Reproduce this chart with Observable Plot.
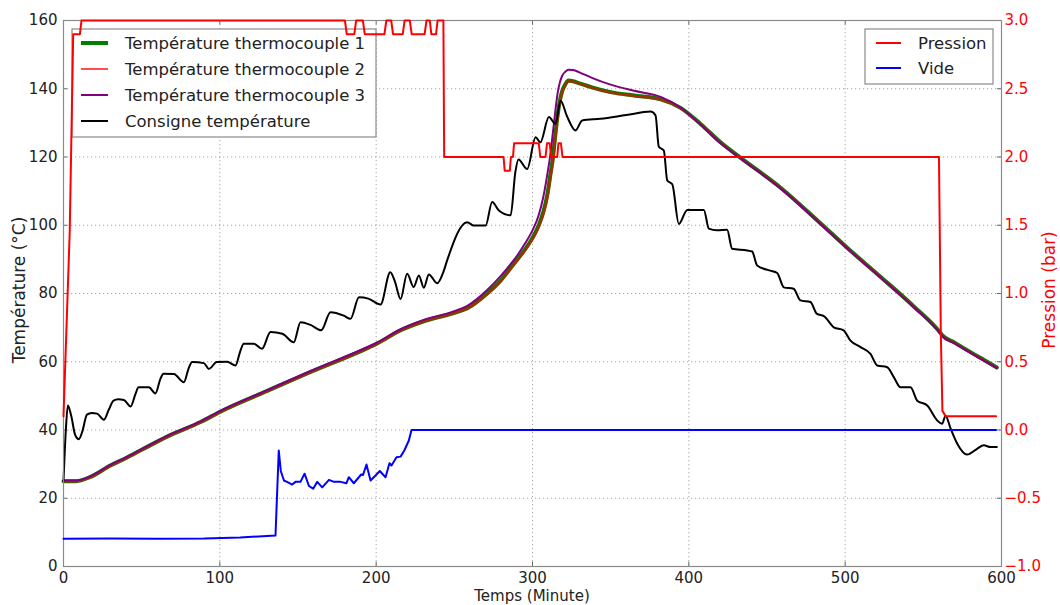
<!DOCTYPE html>
<html><head><meta charset="utf-8">
<script src="https://cdn.jsdelivr.net/npm/d3@7"></script>
<script src="https://cdn.jsdelivr.net/npm/@observablehq/plot@0.6"></script>
<style>body{margin:0;background:#fff;}</style>
</head><body><div id="chart"></div>
<script>
// ---- data ----
const xTicks = [0, 100, 200, 300, 400, 500, 600];
const yTicks = [0, 20, 40, 60, 80, 100, 120, 140, 160];
const pTicks = [-1.0, -0.5, 0.0, 0.5, 1.0, 1.5, 2.0, 2.5, 3.0];

const tcTime = [0,8,17,30,40,50,66,88,100,130,158,192,200,216,230,249,258,271,280,286,290,295,300,304,307,309.5,311.5,313,314.5,316,317.5,319,321,323,326,330,338,350,365,382,394.7,407.5,420.3,433,458.7,484.2,501.3,522.6,543.9,561,562,570,578,587,597];
const tc1 = [25,25,26.2,29.6,31.8,34.2,38,42.4,45.3,51.4,
  57,63.5,65.2,69.3,71.8,74.2,75.6,80,84,87.5,
  89.8,92.8,96.3,100,104,109,115,119.5,126,132,
  136.5,139.3,141.3,142.4,142.2,141.6,140.4,139,138,136.9,
  134.4,129.7,124.3,119.8,111,100.6,93.4,84.9,76.2,68.4,
  67.8,65.6,63.4,61,58.3];
const tc2 = [25,25,26.1,29.5,31.7,34.1,37.9,42.3,45.2,51.3,
  56.9,63.4,65.1,69.2,71.7,74.1,75.5,79.8,83.8,87.2,
  89.5,92.5,95.9,99.5,103.3,108.2,114,118.5,125,131.2,
  136,139,141.1,142.2,142.1,141.5,140.3,138.9,137.9,136.8,
  134.3,129.6,124.2,119.7,110.9,100.5,93.3,84.8,76.1,68.3,
  67.7,65.5,63.3,60.9,58.2];
const tc3 = [25.2,25.2,26.4,29.8,32,34.4,38.2,42.6,45.5,51.6,
  57.3,63.8,65.5,69.6,72.2,74.7,76.3,81,85.3,88.6,
  91,94.5,98.5,103,108.5,115,121,127,133,138.5,
  141.8,143.8,145,145.6,145.5,144.8,143.2,141.2,139.4,137.6,
  134.5,129.5,124,119.6,110.8,100.4,93.2,84.7,76,68.2,
  67.6,65.4,63.2,60.8,58.2];

const consTime = [0,1.5,2.8,5,7.5,9.8,12,15,18,21.5,25.8,29,32,35,38.6,42.9,46,48,54.6,58.8,62,64,70.6,77,80,82.3,89.8,93,98,104.7,110,113,115.3,121.7,127,132.4,140,147.3,151.6,158,164.8,170.8,179.3,183.6,189,195,202.8,209,212,215.6,219.8,224,227.3,230.5,233.7,239,243.3,245.4,258.2,262.5,270,274.2,278.5,286,289,291,296.6,302,305,310.5,314.7,318,322,327.5,331.8,343.5,360,375.5,378.7,380.8,384,386.2,389.4,393.6,399,409.6,412.8,418,424.5,427.7,437.3,440.5,443.7,452,456.5,460.8,467,471.4,477.8,482,486.4,492.7,499,503.4,509.8,516.2,520.5,526.9,531.1,535.4,541.8,546.1,552.5,558.9,562,564.2,567.4,571.7,578,584.4,588.7,593,597];
const consigne = [25,40,47.2,44,38.5,37.3,39.5,44.5,45,44.8,43,46,48.6,49,48.8,46.9,50.5,52.5,52.5,50.7,55,56.5,56.4,54,58,59.9,59.6,57.9,59.9,60,58.9,63,65.3,65.3,63.8,68.7,68.2,65.7,71.6,70.8,69.2,74.5,73.5,72.6,78.9,78.5,76.8,86.2,83.5,78.4,85.8,81.9,85.3,81.7,85.6,83,86.7,89.7,100.9,99.9,99.9,106.8,104.3,102.9,115.5,119.3,116.5,125.8,124.3,131.7,129.7,136.5,132,127.8,130.7,131.2,132.3,133.3,132.2,123,121.9,113.1,112,100.4,104.5,104.5,99,98.5,98.7,93.1,92.6,92.3,88.2,86.7,86,81.8,81.4,78,77.5,74,73.4,70.1,69.2,66.2,64.3,62.3,58.9,58.4,55.5,52.5,52.5,48.6,47.2,42.8,41.8,44.2,40.5,36,32.8,34.5,35.5,35,35];

const presTime = [0,4,6.2,10.5,11.5,180,181.2,186,187.2,191.5,192.7,205.3,206.5,209.6,210.8,217,218.2,221.5,222.7,231,232.2,234.3,235.3,238.3,239.3,243,243.5,281.5,282.2,285.5,286.2,287.5,288.2,304,305,308.3,309.3,311,312,315.8,316.6,318.2,319.2,560,561.2,562.2,564.3,596.5];
const pression = [0.1,1.46,2.9,2.9,3.0,3.0,2.9,2.9,3.0,3.0,2.9,2.9,3.0,3.0,2.9,2.9,3.0,3.0,2.9,2.9,3.0,3.0,2.9,2.9,3.0,3.0,2.0,2.0,1.9,1.9,2.0,2.0,2.1,2.1,2.0,2.0,2.1,2.1,2.0,2.0,2.1,2.1,2.0,2.0,0.7,0.14,0.1,0.1];

const videTime = [0,30,60,90,113,135.6,137.7,139,141,143,146.3,148.4,151.6,154.2,157,159.7,162.3,165.5,169.8,173,177.2,181,182.5,185.7,190.4,191.6,193.8,196.4,199.6,202.3,206,208.5,209.8,213,215.6,218,220.9,222.6,596.5];
const vide = [-0.797,-0.795,-0.797,-0.795,-0.787,-0.773,-0.15,-0.3,-0.37,-0.38,-0.40,-0.38,-0.38,-0.32,-0.41,-0.43,-0.38,-0.42,-0.365,-0.38,-0.38,-0.39,-0.346,-0.39,-0.326,-0.33,-0.253,-0.37,-0.333,-0.30,-0.346,-0.243,-0.26,-0.2,-0.195,-0.15,-0.077,0,0];

// ---- build tables ----
const toY = p => (p + 1) * 40;          // pression (bar) -> shared y scale (°C)
const fmtP = p => (p < 0 ? "\u2212" : "") + Math.abs(p).toFixed(1);
const rows = (ts, vs) => ts.map((t, i) => ({t, v: vs[i]}));
const d1 = rows(tcTime, tc1), d2 = rows(tcTime, tc2), d3r = rows(tcTime, tc3);
const dc = rows(consTime, consigne);
const dp = rows(presTime, pression.map(toY));
const dv = rows(videTime, vide.map(toY));

const grid = {stroke: "#9a9a9a", strokeOpacity: 1, strokeWidth: 0.9, strokeDasharray: "1.2,2.8"};

const chart = Plot.plot({
  width: 1060, height: 605,
  marginLeft: 63, marginRight: 59, marginTop: 20, marginBottom: 39,
  x: {domain: [0, 600]},
  y: {domain: [0, 160]},
  style: {fontFamily: "'DejaVu Sans', sans-serif", fontSize: "15px", background: "white", color: "#222"},
  marks: [
    Plot.ruleX(xTicks, {...grid}),
    Plot.ruleY(yTicks, {...grid}),
    Plot.ruleX(xTicks, {y1: 0, y2: 1.3, stroke: "#666"}),
    Plot.ruleX(xTicks, {y1: 158.7, y2: 160, stroke: "#666"}),
    Plot.ruleY(yTicks, {x1: 0, x2: 2.6, stroke: "#666"}),
    Plot.ruleY(yTicks, {x1: 597.4, x2: 600, stroke: "#666"}),
    Plot.line(d1, {x: "t", y: "v", stroke: "#008000", strokeWidth: 4, curve: "monotone-x"}),
    Plot.line(d2, {x: "t", y: "v", stroke: "#ff0000", strokeOpacity: 0.6, strokeWidth: 2.5, curve: "monotone-x"}),
    Plot.line(d3r, {x: "t", y: "v", stroke: "#800080", strokeWidth: 2, curve: "monotone-x"}),
    Plot.line(dc, {x: "t", y: "v", stroke: "#000", strokeWidth: 2, curve: "monotone-x"}),
    Plot.frame({stroke: "#8a8a8a", strokeWidth: 1.2}),
    Plot.line(dp, {x: "t", y: "v", stroke: "#ff0000", strokeWidth: 2, ariaDescription: "pression"}),
    Plot.line(dv, {x: "t", y: "v", stroke: "#0000ff", strokeWidth: 2}),
    Plot.axisX({ticks: xTicks, tickSize: 0, tickPadding: 6, label: null}),
    Plot.axisY({ticks: yTicks, tickSize: 0, tickPadding: 6, label: null}),
    Plot.axisY({anchor: "right", ticks: pTicks.map(toY), tickFormat: d => fmtP(d / 40 - 1),
      tickSize: 0, tickPadding: 3, label: null, fill: "#ff0000"})
  ]
});
document.getElementById("chart").appendChild(chart);

// ---- labels & legends ----
const svg = d3.select(chart);
const F = "'DejaVu Sans', sans-serif";
svg.append("text").attr("x", 532).attr("y", 601).attr("text-anchor", "middle")
  .attr("font-family", F).attr("font-size", 15).attr("fill", "#222").text("Temps (Minute)");
svg.append("text").attr("transform", "translate(25,290) rotate(-90)").attr("text-anchor", "middle")
  .attr("font-family", F).attr("font-size", 17).attr("fill", "#222").text("Température (°C)");
svg.append("text").attr("transform", "translate(1055,290) rotate(-90)").attr("text-anchor", "middle")
  .attr("font-family", F).attr("font-size", 17).attr("fill", "#ff0000").text("Pression (bar)");

function legend(before, box, items, lx0, lx1, tx) {
  const g = before ? svg.insert("g", before) : svg.append("g");
  g.attr("text-anchor", "start");
  g.append("rect").attr("x", box[0]).attr("y", box[1]).attr("width", box[2]).attr("height", box[3])
    .attr("fill", "white").attr("stroke", "#8a8a8a").attr("stroke-width", 1.2);
  items.forEach(it => {
    g.append("line").attr("x1", lx0).attr("x2", lx1).attr("y1", it.y).attr("y2", it.y)
      .attr("stroke", it.color).attr("stroke-width", it.w).attr("stroke-opacity", it.o || 1);
    g.append("text").attr("x", tx).attr("y", it.y).attr("dy", "0.36em").attr("text-anchor", "start")
      .attr("font-family", F).attr("font-size", 16.5).attr("fill", "#222").text(it.label);
  });
}
legend('g[aria-description="pression"]', [72, 29, 304, 108], [
  {label: "Température thermocouple 1", color: "#008000", w: 4, y: 43},
  {label: "Température thermocouple 2", color: "#ff0000", w: 2, o: 0.7, y: 69},
  {label: "Température thermocouple 3", color: "#800080", w: 2, y: 95},
  {label: "Consigne température", color: "#000", w: 2, y: 121}
], 81, 108, 125);
legend(null, [865, 29, 128, 55], [
  {label: "Pression", color: "#ff0000", w: 2, y: 43},
  {label: "Vide", color: "#0000ff", w: 2, y: 68}
], 876, 901, 918);
</script>
</body></html>
